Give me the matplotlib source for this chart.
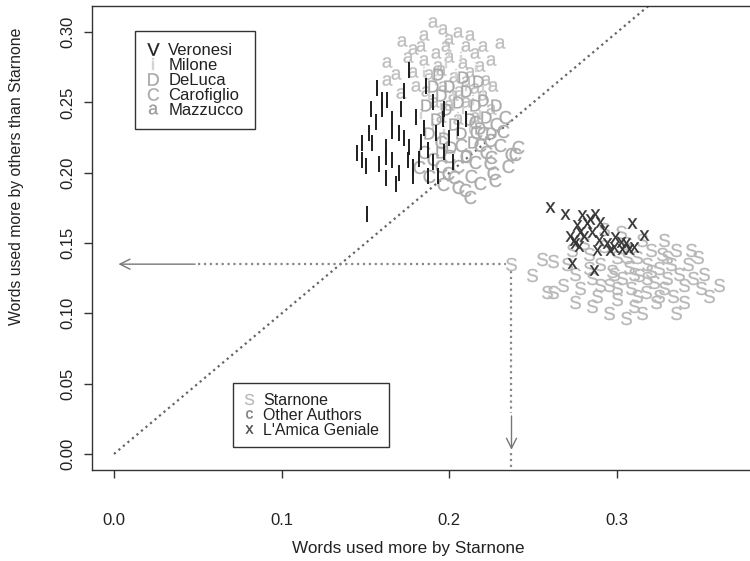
import matplotlib
matplotlib.use('Agg')
import matplotlib.pyplot as plt
from matplotlib.lines import Line2D

plt.rcParams['font.family'] = ['Liberation Sans', 'DejaVu Sans']
plt.rcParams['mathtext.fontset'] = 'custom'
plt.rcParams['mathtext.rm'] = 'Liberation Sans'

# --- data ---
veronesi_x = [0.163, 0.153, 0.160, 0.156, 0.166, 0.171, 0.148, 0.154, 0.162, 0.166, 0.170, 0.173,
              0.148, 0.150, 0.162, 0.166, 0.175, 0.178, 0.178, 0.162, 0.187, 0.187, 0.151, 0.157,
              0.160, 0.176, 0.190, 0.180, 0.185, 0.192, 0.196, 0.183, 0.190, 0.197, 0.200, 0.205,
              0.193, 0.170, 0.158, 0.145, 0.152, 0.176, 0.182, 0.197, 0.210, 0.168, 0.186, 0.202, 0.173]
veronesi_y = [0.252, 0.245, 0.245, 0.236, 0.238, 0.245, 0.221, 0.221, 0.218, 0.230, 0.228, 0.225,
              0.209, 0.205, 0.211, 0.209, 0.209, 0.204, 0.198, 0.196, 0.216, 0.198, 0.171, 0.260,
              0.252, 0.273, 0.250, 0.240, 0.232, 0.228, 0.238, 0.222, 0.208, 0.215, 0.225, 0.232,
              0.198, 0.200, 0.206, 0.214, 0.228, 0.218, 0.210, 0.245, 0.238, 0.192, 0.262, 0.208, 0.258]

milone_x = [0.185, 0.192, 0.198, 0.204, 0.210, 0.216, 0.188, 0.195, 0.202, 0.208, 0.214, 0.220,
            0.190, 0.197, 0.205, 0.212, 0.183, 0.218, 0.200, 0.207]
milone_y = [0.272, 0.266, 0.278, 0.270, 0.262, 0.275, 0.255, 0.248, 0.258, 0.245, 0.252, 0.260,
            0.235, 0.230, 0.240, 0.232, 0.242, 0.243, 0.285, 0.282]

deluca_x = [0.190, 0.195, 0.200, 0.205, 0.210, 0.215, 0.198, 0.192, 0.203, 0.212, 0.218, 0.207,
            0.197, 0.188, 0.214, 0.222, 0.220, 0.208, 0.186, 0.201, 0.195, 0.225, 0.217, 0.193,
            0.210, 0.228]
deluca_y = [0.262, 0.255, 0.262, 0.250, 0.258, 0.248, 0.245, 0.238, 0.235, 0.238, 0.232, 0.228,
            0.225, 0.228, 0.222, 0.240, 0.252, 0.268, 0.248, 0.218, 0.215, 0.228, 0.265, 0.270,
            0.212, 0.248]

carofiglio_x = [0.241, 0.239, 0.226, 0.225, 0.212, 0.209, 0.203, 0.218, 0.224, 0.216, 0.237, 0.224,
                0.182, 0.199, 0.195, 0.205, 0.213, 0.218, 0.210, 0.200, 0.190, 0.215, 0.222, 0.230,
                0.232, 0.228, 0.220, 0.207, 0.195, 0.185, 0.233, 0.215, 0.205, 0.196, 0.188, 0.227, 0.235]
carofiglio_y = [0.218, 0.213, 0.200, 0.211, 0.183, 0.188, 0.197, 0.220, 0.223, 0.229, 0.213, 0.207,
                0.204, 0.200, 0.205, 0.205, 0.198, 0.193, 0.212, 0.212, 0.210, 0.208, 0.215, 0.220,
                0.230, 0.235, 0.228, 0.220, 0.222, 0.215, 0.240, 0.236, 0.190, 0.192, 0.198, 0.195, 0.205]

mazzucco_x = [0.190, 0.196, 0.185, 0.172, 0.178, 0.163, 0.163, 0.171, 0.230, 0.200, 0.205, 0.210,
              0.215, 0.208, 0.200, 0.192, 0.185, 0.178, 0.188, 0.195, 0.203, 0.212, 0.218, 0.222,
              0.215, 0.206, 0.196, 0.186, 0.180, 0.191, 0.200, 0.210, 0.220, 0.225, 0.215, 0.205,
              0.195, 0.198, 0.183, 0.220, 0.212, 0.225, 0.175, 0.168, 0.202, 0.193, 0.226, 0.210]
mazzucco_y = [0.307, 0.302, 0.298, 0.294, 0.288, 0.279, 0.266, 0.257, 0.292, 0.295, 0.300, 0.290,
              0.285, 0.278, 0.282, 0.285, 0.280, 0.272, 0.270, 0.273, 0.268, 0.272, 0.276, 0.266,
              0.260, 0.258, 0.262, 0.258, 0.262, 0.250, 0.248, 0.250, 0.255, 0.245, 0.240, 0.238,
              0.240, 0.290, 0.290, 0.290, 0.298, 0.280, 0.282, 0.270, 0.255, 0.276, 0.262, 0.265]

starnone_x = [0.249, 0.255, 0.262, 0.258, 0.262, 0.361,
              0.270, 0.275, 0.278, 0.283, 0.285, 0.288, 0.290, 0.292, 0.295, 0.297, 0.300, 0.300,
              0.303, 0.305, 0.307, 0.308, 0.310, 0.312, 0.313, 0.315, 0.317, 0.318, 0.320, 0.322,
              0.323, 0.325, 0.327, 0.328, 0.330, 0.332, 0.333, 0.335, 0.337, 0.340, 0.342, 0.345,
              0.348, 0.350, 0.285, 0.295, 0.305, 0.315, 0.292, 0.302, 0.280, 0.273, 0.298, 0.310,
              0.318, 0.300, 0.290, 0.325, 0.335, 0.328, 0.340, 0.312, 0.283, 0.306, 0.320, 0.330,
              0.344, 0.352, 0.355, 0.275, 0.268]
starnone_y = [0.127, 0.139, 0.137, 0.115, 0.115, 0.120,
              0.135, 0.128, 0.118, 0.142, 0.125, 0.112, 0.135, 0.148, 0.120, 0.130, 0.140, 0.110,
              0.125, 0.150, 0.133, 0.118, 0.105, 0.140, 0.127, 0.152, 0.115, 0.135, 0.145, 0.122,
              0.108, 0.132, 0.142, 0.118, 0.125, 0.135, 0.112, 0.145, 0.128, 0.120, 0.135, 0.125,
              0.140, 0.118, 0.105, 0.100, 0.097, 0.100, 0.160, 0.158, 0.150, 0.145, 0.128, 0.128,
              0.125, 0.118, 0.120, 0.112, 0.100, 0.152, 0.108, 0.112, 0.132, 0.140, 0.130, 0.140,
              0.145, 0.128, 0.112, 0.108, 0.120]

amica_x = [0.260, 0.269, 0.279, 0.287, 0.274, 0.273, 0.286, 0.288, 0.276, 0.282, 0.292, 0.309,
           0.316, 0.299, 0.305, 0.310, 0.278, 0.284, 0.290, 0.275, 0.280, 0.294, 0.298, 0.302,
           0.296, 0.285, 0.272, 0.277, 0.289, 0.307, 0.303]
amica_y = [0.176, 0.171, 0.170, 0.171, 0.152, 0.136, 0.131, 0.145, 0.163, 0.164, 0.159, 0.164,
           0.156, 0.154, 0.150, 0.147, 0.158, 0.167, 0.165, 0.150, 0.155, 0.150, 0.147, 0.151,
           0.145, 0.158, 0.155, 0.148, 0.152, 0.146, 0.146]

proj_x = 0.237   # the projected point and its two arrows
proj_y = 0.135

fig = plt.figure(figsize=(7.5, 5.61), dpi=100)
ax = fig.add_axes([0.1227, 0.1622, 0.8907, 0.8271])

dark = '#333333'
txt = '#222222'
for s in ax.spines.values():
    s.set_color(dark)
    s.set_linewidth(1.0)

ax.set_xlim(-0.0131, 0.3852)
ax.set_ylim(-0.0114, 0.3186)
ax.set_xticks([0.0, 0.1, 0.2, 0.3])
ax.set_xticklabels(['0.0', '0.1', '0.2', '0.3'])
ax.set_yticks([0.0, 0.05, 0.10, 0.15, 0.20, 0.25, 0.30])
ax.set_yticklabels(['0.00', '0.05', '0.10', '0.15', '0.20', '0.25', '0.30'], rotation=90, va='center')
ax.tick_params(direction='out', length=6, width=1, color=dark, labelcolor=txt, labelsize=12)
ax.tick_params(axis='x', pad=25)
ax.tick_params(axis='y', pad=6)

ax.set_xlabel('Words used more by Starnone', fontsize=12.3, color=txt)
ax.set_ylabel('Words used more by others than Starnone', fontsize=11.3, color=txt)
ax.xaxis.set_label_coords(0.474, -0.152)
ax.yaxis.set_label_coords(-0.102, 0.634)

# diagonal y = x
ax.plot([0, 0.34], [0, 0.34], ':', color='#666666', lw=1.6)

# projection of the Starnone point onto the axes
ax.plot([0.05, proj_x - 0.003], [proj_y, proj_y], ':', color='#888888', lw=1.6)
ax.annotate('', xy=(0.001, proj_y), xytext=(0.05, proj_y),
            arrowprops=dict(arrowstyle='->', color='#777777', lw=1.0, mutation_scale=18))
ax.plot([proj_x, proj_x], [proj_y - 0.005, 0.029], ':', color='#888888', lw=1.6)
ax.annotate('', xy=(proj_x, 0.001), xytext=(proj_x, 0.029),
            arrowprops=dict(arrowstyle='->', color='#777777', lw=1.0, mutation_scale=18))
ax.plot([proj_x, proj_x], [0.001, -0.0114], ':', color='#888888', lw=1.6)

# scatter groups drawn as letters
ax.plot(mazzucco_x, mazzucco_y, ls='none', marker=r'$\mathrm{a}$', ms=7.5, mew=0.2, color='#bdbdbd')
ax.plot(milone_x, milone_y, ls='none', marker=r'$\mathrm{i}$', ms=7, mew=0.2, color='#d4d4d4')
ax.plot(deluca_x, deluca_y, ls='none', marker=r'$\mathrm{D}$', ms=8.5, mew=0.2, color='#a8a8a8')
ax.plot(carofiglio_x, carofiglio_y, ls='none', marker=r'$\mathrm{C}$', ms=9.5, mew=0.2, color='#acacac')
ax.plot(veronesi_x, veronesi_y, ls='none', marker='|', ms=11, mew=1.4, color='#1e1e1e')
ax.plot(starnone_x, starnone_y, ls='none', marker=r'$\mathrm{S}$', ms=9.5, mew=0.2, color='#b8b8b8')
ax.plot(amica_x, amica_y, ls='none', marker=r'$\mathrm{x}$', ms=7.5, mew=0.2, color='#333333')
ax.plot([proj_x], [proj_y], ls='none', marker=r'$\mathrm{S}$', ms=9.5, mew=0.2, color='#bbbbbb')

# legends
h1 = [Line2D([], [], ls='none', marker=r'$\mathrm{V}$', ms=9, mew=0.2, color='#1e1e1e'),
      Line2D([], [], ls='none', marker=r'$\mathrm{i}$', ms=8, mew=0.2, color='#d4d4d4'),
      Line2D([], [], ls='none', marker=r'$\mathrm{D}$', ms=9, mew=0.2, color='#a8a8a8'),
      Line2D([], [], ls='none', marker=r'$\mathrm{C}$', ms=9, mew=0.2, color='#acacac'),
      Line2D([], [], ls='none', marker=r'$\mathrm{a}$', ms=7, mew=0.2, color='#999999')]
l1 = ax.legend(h1, ['Veronesi', 'Milone', 'DeLuca', 'Carofiglio', 'Mazzucco'],
               loc='upper left', bbox_to_anchor=(135 / 750, 1 - 31 / 561), bbox_transform=fig.transFigure,
               borderaxespad=0, fancybox=False, framealpha=1, edgecolor=dark, fontsize=12,
               handlelength=0.8, handletextpad=0.5, labelspacing=0.0, borderpad=0.7)
l1.get_frame().set_linewidth(1.0)
for t in l1.get_texts():
    t.set_color(txt)
ax.add_artist(l1)

h2 = [Line2D([], [], ls='none', marker=r'$\mathrm{S}$', ms=8, mew=0.2, color='#bbbbbb'),
      Line2D([], [], ls='none', marker=r'$\mathrm{c}$', ms=6, mew=0.2, color='#777777'),
      Line2D([], [], ls='none', marker=r'$\mathrm{x}$', ms=6, mew=0.2, color='#444444')]
l2 = ax.legend(h2, ['Starnone', 'Other Authors', "L'Amica Geniale"],
               loc='upper left', bbox_to_anchor=(233 / 750, 1 - 383 / 561), bbox_transform=fig.transFigure,
               borderaxespad=0, fancybox=False, framealpha=1, edgecolor=dark, fontsize=11.5,
               handlelength=0.8, handletextpad=0.5, labelspacing=0.0, borderpad=0.6)
l2.get_frame().set_linewidth(1.0)
for t in l2.get_texts():
    t.set_color(txt)

fig.savefig('out.png', dpi=100)
